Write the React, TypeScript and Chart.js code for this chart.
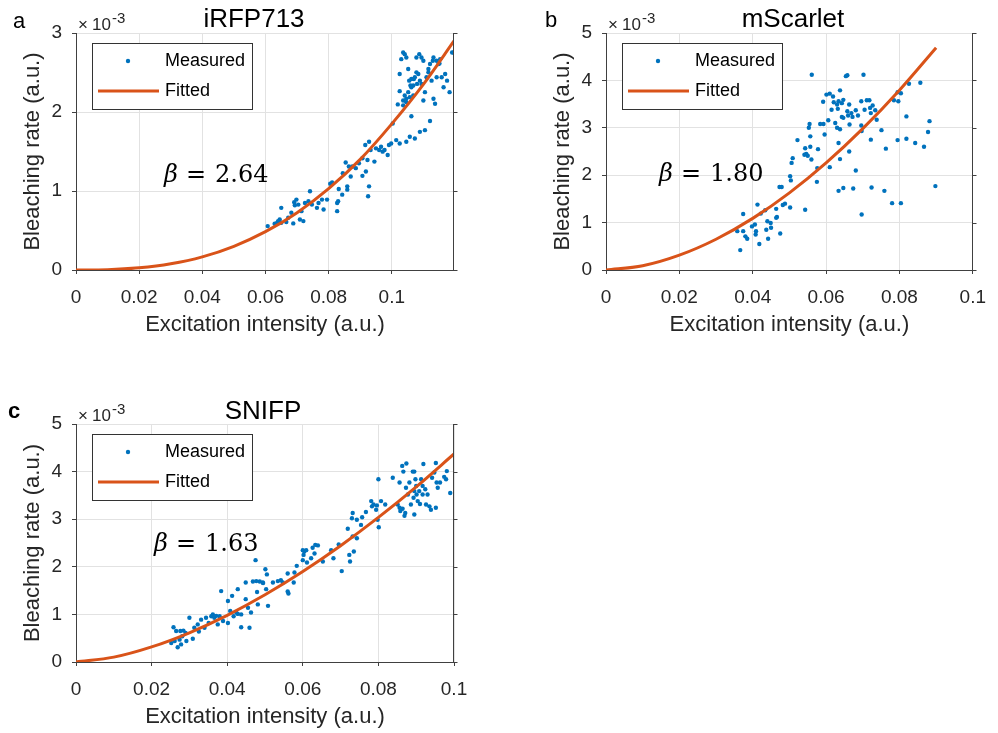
import React, { useEffect, useRef } from 'react';
import { Chart, registerables } from 'chart.js';

Chart.register(...registerables);

// ---------- Panel a: iRFP713 (y in units of 1e-3) ----------
const aMeasX = [
  0.0607, 0.0640, 0.0645, 0.0650, 0.0637, 0.0666, 0.0688, 0.0709, 0.0720, 0.0650,
  0.0691, 0.0698, 0.0693, 0.0704, 0.0714, 0.0736, 0.0741, 0.0747, 0.0763, 0.0779,
  0.0784, 0.0795, 0.0805, 0.0811, 0.0827, 0.0830, 0.0827, 0.0832, 0.0845, 0.0854,
  0.0859, 0.0859, 0.0870, 0.0875, 0.0886, 0.0907, 0.0907, 0.0918, 0.0923, 0.0928,
  0.0925, 0.0933, 0.0916, 0.0928, 0.0945, 0.0966, 0.0971, 0.0977, 0.0987, 0.0991,
  0.0998, 0.1003, 0.1014, 0.1025, 0.1046, 0.1057, 0.1073, 0.1089, 0.1105, 0.1121,
  0.1062, 0.1036, 0.1019, 0.1025, 0.1036, 0.1041, 0.1046, 0.1052, 0.1057, 0.1062,
  0.1068, 0.1070, 0.1078, 0.1084, 0.1089, 0.1094, 0.1100, 0.1105, 0.1110, 0.1116,
  0.1121, 0.1126, 0.1132, 0.1137, 0.1142, 0.1148, 0.1153, 0.1158, 0.1164, 0.1169,
  0.1175, 0.1183, 0.1191, 0.1196, 0.1025, 0.1036, 0.1041, 0.1046, 0.1052, 0.1030,
  0.1062, 0.1078, 0.1087, 0.1094, 0.1100, 0.1116, 0.1130, 0.1132, 0.1142, 0.1151,
  0.1073, 0.1080, 0.1055, 0.1059, 0.1068, 0.1046, 0.0629, 0.0672, 0.0682, 0.0725,
  0.0768, 0.0843, 0.0864, 0.0896, 0.0950, 0.0960,
];
const aMeasY = [
  0.556, 0.619, 0.640, 0.598, 0.598, 0.607, 0.590, 0.640, 0.619, 0.787,
  0.858, 0.891, 0.820, 0.828, 0.745, 0.870, 0.996, 0.828, 0.787, 0.891,
  0.766, 0.891, 1.092, 1.109, 0.849, 0.870, 0.745, 1.025, 1.226, 1.360,
  1.017, 1.059, 1.184, 1.310, 1.289, 1.414, 1.192, 1.247, 1.393, 1.059,
  0.933, 1.519, 1.582, 1.623, 1.372, 1.561, 1.498, 1.519, 1.456, 1.582,
  1.602, 1.854, 1.644, 1.602, 1.623, 1.686, 1.665, 1.749, 1.770, 1.887,
  1.946, 2.084, 2.096, 2.264, 2.146, 2.209, 2.125, 2.251, 2.188, 2.314,
  2.335, 2.418, 2.502, 2.481, 2.397, 2.356, 2.146, 2.251, 2.439, 2.544,
  2.607, 2.397, 2.167, 2.105, 2.439, 2.607, 2.669, 2.439, 2.314, 2.481,
  2.397, 2.251, 2.753, 2.753, 2.481, 2.753, 2.732, 2.690, 2.544, 2.669,
  2.418, 2.690, 2.732, 2.690, 2.649, 2.502, 2.649, 2.690, 2.649, 2.615,
  2.439, 2.356, 2.397, 2.335, 2.209, 2.167, 0.586, 0.661, 0.724, 0.849,
  0.849, 0.954, 1.310, 1.351, 1.540, 1.519,
];
const aFitX = [0, 0.01, 0.02, 0.03, 0.04, 0.05, 0.06, 0.07, 0.08, 0.09, 0.10, 0.11, 0.1197];
const aFitY = [0, 0.004, 0.027, 0.078, 0.166, 0.30, 0.485, 0.725, 1.03, 1.40, 1.85, 2.35, 2.90];
const aXTicks = [0, 0.02, 0.04, 0.06, 0.08, 0.1];
const aYTicks = [0, 1, 2, 3];

// ---------- Panel b: mScarlet ----------
const bMeasX = [
  0.0561, 0.0654, 0.0658, 0.0702, 0.0826, 0.0857, 0.0601, 0.0610, 0.0619, 0.0638,
  0.0592, 0.0621, 0.0630, 0.0634, 0.0643, 0.0647, 0.0663, 0.0615, 0.0632, 0.0658,
  0.0669, 0.0681, 0.0696, 0.0711, 0.0718, 0.0727, 0.0705, 0.0720, 0.0734, 0.0722,
  0.0738, 0.0643, 0.0647, 0.0660, 0.0672, 0.0687, 0.0664, 0.0696, 0.0606, 0.0625,
  0.0584, 0.0593, 0.0630, 0.0638, 0.0555, 0.0553, 0.0557, 0.0596, 0.0522, 0.0634,
  0.0543, 0.0546, 0.0557, 0.0541, 0.0550, 0.0560, 0.0578, 0.0509, 0.0506, 0.0576,
  0.0610, 0.0638, 0.0663, 0.0681, 0.0697, 0.0722, 0.0751, 0.0763, 0.0795, 0.0819,
  0.0819, 0.0843, 0.0867, 0.0878, 0.0882, 0.0785, 0.0797, 0.0795, 0.0804, 0.0898,
  0.0502, 0.0504, 0.0575, 0.0473, 0.0479, 0.0634, 0.0647, 0.0674, 0.0724, 0.0759,
  0.0780, 0.0804, 0.0697, 0.0543, 0.0502, 0.0488, 0.0482, 0.0464, 0.0466, 0.0413,
  0.0422, 0.0434, 0.0440, 0.0449, 0.0464, 0.0437, 0.0442, 0.0475, 0.0450, 0.0374,
  0.0398, 0.0406, 0.0409, 0.0408, 0.0418, 0.0380, 0.0385, 0.0374, 0.0358, 0.0366,
];
const bMeasY = [
  4.12, 4.09, 4.11, 4.12, 3.93, 3.95, 3.70, 3.72, 3.66, 3.79,
  3.55, 3.54, 3.49, 3.56, 3.52, 3.59, 3.49, 3.38, 3.40, 3.35,
  3.31, 3.37, 3.56, 3.58, 3.58, 3.47, 3.38, 3.42, 3.37, 3.31,
  3.17, 3.23, 3.21, 3.26, 3.23, 3.26, 3.07, 3.05, 3.16, 3.10,
  3.08, 3.08, 3.00, 2.97, 3.08, 3.00, 2.82, 2.86, 2.74, 2.68,
  2.57, 2.45, 2.60, 2.43, 2.41, 2.33, 2.55, 2.36, 2.26, 2.15,
  2.17, 2.34, 2.50, 2.10, 2.93, 2.75, 2.95, 2.56, 2.74, 2.77,
  3.24, 2.68, 2.60, 2.91, 3.14, 3.58, 3.56, 3.75, 3.73, 1.77,
  1.98, 1.89, 1.86, 1.75, 1.75, 1.67, 1.73, 1.72, 1.74, 1.67,
  1.41, 1.41, 1.17, 1.27, 1.32, 1.40, 1.37, 1.29, 1.12, 1.38,
  1.19, 1.26, 1.03, 0.99, 1.10, 0.85, 0.66, 0.77, 0.89, 1.18,
  0.92, 0.96, 0.82, 0.75, 0.55, 0.71, 0.66, 0.82, 0.82, 0.42,
];
const bFitX = [0, 0.01, 0.02, 0.03, 0.04, 0.05, 0.06, 0.07, 0.08, 0.09];
const bFitY = [0, 0.09, 0.313, 0.649, 1.089, 1.628, 2.26, 2.983, 3.794, 4.69];
const bXTicks = [0, 0.02, 0.04, 0.06, 0.08, 0.1];
const bYTicks = [0, 1, 2, 3, 4, 5];

// ---------- Panel c: SNIFP ----------
const cMeasX = [
  0.0252, 0.0261, 0.0258, 0.0265, 0.0269, 0.0274, 0.0276, 0.0281, 0.0284, 0.0290,
  0.0278, 0.0292, 0.0300, 0.0309, 0.0313, 0.0322, 0.0325, 0.0331, 0.0340, 0.0344,
  0.0351, 0.0358, 0.0362, 0.0366, 0.0371, 0.0375, 0.0380, 0.0384, 0.0389, 0.0402,
  0.0402, 0.0408, 0.0413, 0.0417, 0.0424, 0.0428, 0.0428, 0.0437, 0.0437, 0.0449,
  0.0449, 0.0455, 0.0459, 0.0463, 0.0468, 0.0475, 0.0477, 0.0479, 0.0481, 0.0486,
  0.0494, 0.0501, 0.0503, 0.0505, 0.0508, 0.0560, 0.0578, 0.0584, 0.0560, 0.0547,
  0.0534, 0.0521, 0.0576, 0.0600, 0.0604, 0.0609, 0.0602, 0.0600, 0.0611, 0.0622,
  0.0626, 0.0633, 0.0640, 0.0631, 0.0653, 0.0675, 0.0681, 0.0695, 0.0703, 0.0719,
  0.0723, 0.0725, 0.0732, 0.0735, 0.0743, 0.0730, 0.0732, 0.0743, 0.0754, 0.0757,
  0.0767, 0.0781, 0.0783, 0.0787, 0.0794, 0.0796, 0.0800, 0.0798, 0.0801, 0.0807,
  0.0818, 0.0838, 0.0851, 0.0856, 0.0858, 0.0864, 0.0869, 0.0871, 0.0856, 0.0863,
  0.0866, 0.0874, 0.0873, 0.0882, 0.0878, 0.0891, 0.0895, 0.0898, 0.0886, 0.0895,
  0.0900, 0.0904, 0.0910, 0.0919, 0.0913, 0.0917, 0.0924, 0.0930, 0.0935, 0.0939,
  0.0942, 0.0948, 0.0952, 0.0954, 0.0957, 0.0952, 0.0963, 0.0974, 0.0979, 0.0981,
  0.0990, 0.0908, 0.0917, 0.0895, 0.0926, 0.0893, 0.0901, 0.0495, 0.0542, 0.0562,
];
const cMeasY = [
  0.40, 0.44, 0.73, 0.65, 0.31, 0.47, 0.65, 0.54, 0.66, 0.61,
  0.37, 0.44, 0.93, 0.49, 0.72, 0.79, 0.64, 0.89, 0.72, 0.93,
  0.82, 0.96, 1.00, 0.93, 0.97, 0.79, 0.96, 1.49, 0.86, 0.82,
  1.28, 1.07, 1.39, 0.96, 1.04, 1.53, 1.01, 1.00, 0.73, 1.32,
  1.67, 1.14, 0.72, 1.04, 1.69, 2.14, 1.70, 1.47, 1.21, 1.69,
  1.67, 1.95, 1.53, 1.84, 1.18, 1.86, 1.88, 2.02, 1.48, 1.67,
  1.70, 1.67, 1.67, 2.35, 2.32, 2.35, 2.25, 2.14, 2.09, 2.18,
  2.40, 2.46, 2.45, 2.28, 2.11, 2.35, 2.18, 2.47, 1.91, 2.80,
  2.25, 2.11, 2.64, 2.32, 2.60, 3.02, 3.13, 2.99, 2.88, 3.04,
  3.15, 3.38, 3.27, 3.31, 3.20, 3.29, 3.84, 2.99, 2.83, 3.38,
  3.31, 3.87, 3.31, 3.24, 3.17, 3.22, 3.07, 3.13, 3.77, 4.12,
  4.00, 4.17, 3.66, 3.77, 3.52, 4.00, 4.00, 3.84, 3.31, 3.10,
  3.70, 3.38, 3.32, 4.16, 3.84, 3.70, 3.63, 3.52, 3.27, 3.20,
  3.87, 3.98, 4.18, 3.77, 3.66, 3.24, 3.77, 3.89, 3.84, 4.01,
  3.55, 3.59, 3.52, 3.59, 3.31, 3.45, 3.52, 1.66, 1.72, 1.44,
];
const cFitX = [0, 0.01, 0.02, 0.03, 0.04, 0.05, 0.06, 0.07, 0.08, 0.09, 0.1];
const cFitY = [0, 0.102, 0.317, 0.614, 0.981, 1.412, 1.901, 2.443, 3.037, 3.68, 4.37];
const cXTicks = [0, 0.02, 0.04, 0.06, 0.08, 0.1];
const cYTicks = [0, 1, 2, 3, 4, 5];

// ---------- styling ----------
const BLUE = '#0072BD';
const ORANGE = '#D95319';
const AXIS = '#404040';
const GRID = '#e2e2e2';
const TXT = '#262626';
const SANS = "'Liberation Sans', Arial, Helvetica, sans-serif";
const SERIF = "'DejaVu Serif', 'Liberation Serif', serif";

type Panel = {
  key: string;
  left: number; top: number; width: number; height: number;
  padTop: number; padRight: number; yAxisW: number; xAxisH: number;
  xMax: number; yMax: number;
  xTicks: number[]; yTicks: number[];
  measX: number[]; measY: number[]; fitX: number[]; fitY: number[];
  letter: string; letterBold: boolean; letterX: number; letterBase: number;
  title: string; titleX: number; titleBase: number;
  beta: string; betaX: number; betaBase: number;
};

const panels: Panel[] = [
  {
    key: 'a', left: 0, top: 0, width: 480, height: 345,
    padTop: 33, padRight: 26, yAxisW: 76, xAxisH: 75,
    xMax: 0.1197, yMax: 3, xTicks: aXTicks, yTicks: aYTicks,
    measX: aMeasX, measY: aMeasY, fitX: aFitX, fitY: aFitY,
    letter: 'a', letterBold: false, letterX: 13, letterBase: 28,
    title: 'iRFP713', titleX: 254, titleBase: 27,
    beta: '2.64', betaX: 164, betaBase: 182,
  },
  {
    key: 'b', left: 520, top: 0, width: 478, height: 345,
    padTop: 33, padRight: 14, yAxisW: 86, xAxisH: 75,
    xMax: 0.1, yMax: 5, xTicks: bXTicks, yTicks: bYTicks,
    measX: bMeasX, measY: bMeasY, fitX: bFitX, fitY: bFitY,
    letter: 'b', letterBold: false, letterX: 25, letterBase: 27,
    title: 'mScarlet', titleX: 273, titleBase: 27,
    beta: '1.80', betaX: 139, betaBase: 181,
  },
  {
    key: 'c', left: 0, top: 390, width: 480, height: 343,
    padTop: 34, padRight: 26, yAxisW: 76, xAxisH: 71,
    xMax: 0.1, yMax: 5, xTicks: cXTicks, yTicks: cYTicks,
    measX: cMeasX, measY: cMeasY, fitX: cFitX, fitY: cFitY,
    letter: 'c', letterBold: true, letterX: 8, letterBase: 28,
    title: 'SNIFP', titleX: 263, titleBase: 29,
    beta: '1.63', betaX: 154, betaBase: 161,
  },
];

function overlayPlugin(p: Panel) {
  return {
    id: 'overlay_' + p.key,
    afterDraw(chart: any) {
      const ctx: CanvasRenderingContext2D = chart.ctx;
      const a = chart.chartArea;
      const ys = chart.scales.y;
      ctx.save();

      // right box edge with outward ticks
      const rx = Math.round(a.right) - 0.5;
      ctx.strokeStyle = AXIS;
      ctx.lineWidth = 1;
      ctx.beginPath();
      ctx.moveTo(rx, a.top);
      ctx.lineTo(rx, a.bottom);
      for (const t of p.yTicks) {
        const py = Math.round(ys.getPixelForValue(t)) + 0.5;
        ctx.moveTo(rx, py);
        ctx.lineTo(rx + 4, py);
      }
      ctx.stroke();

      // legend box
      const L = Math.round(a.left) + 16, T = Math.round(a.top) + 10, W = 160, H = 66;
      ctx.fillStyle = '#ffffff';
      ctx.fillRect(L, T, W, H);
      ctx.strokeStyle = '#333333';
      ctx.lineWidth = 1;
      ctx.strokeRect(L + 0.5, T + 0.5, W, H);
      ctx.fillStyle = BLUE;
      ctx.beginPath();
      ctx.arc(L + 36, T + 18, 2.2, 0, Math.PI * 2);
      ctx.fill();
      ctx.strokeStyle = ORANGE;
      ctx.lineWidth = 3;
      ctx.beginPath();
      ctx.moveTo(L + 6, T + 48);
      ctx.lineTo(L + 67, T + 48);
      ctx.stroke();
      ctx.fillStyle = '#000000';
      ctx.font = `18px ${SANS}`;
      ctx.textAlign = 'left';
      ctx.textBaseline = 'middle';
      ctx.fillText('Measured', L + 73, T + 18);
      ctx.fillText('Fitted', L + 73, T + 48);

      // panel letter
      ctx.textBaseline = 'alphabetic';
      ctx.font = `${p.letterBold ? 'bold ' : ''}22px ${SANS}`;
      ctx.fillText(p.letter, p.letterX, p.letterBase);

      // title
      ctx.textAlign = 'center';
      ctx.font = `26px ${SANS}`;
      ctx.fillText(p.title, p.titleX, p.titleBase);

      // exponent
      ctx.textAlign = 'left';
      ctx.fillStyle = TXT;
      ctx.font = `17px ${SANS}`;
      ctx.fillText('\u00d7', a.left + 2, a.top - 3);
      ctx.fillText('10', a.left + 16, a.top - 3);
      ctx.font = `15px ${SANS}`;
      ctx.fillText('-3', a.left + 36, a.top - 10);

      // axis titles
      ctx.font = `22px ${SANS}`;
      ctx.textAlign = 'center';
      ctx.textBaseline = 'middle';
      ctx.fillText('Excitation intensity (a.u.)', (a.left + a.right) / 2, a.bottom + 55);
      ctx.save();
      ctx.translate(a.left - 43, (a.top + a.bottom) / 2);
      ctx.rotate(-Math.PI / 2);
      ctx.fillText('Bleaching rate (a.u.)', 0, 0);
      ctx.restore();

      // beta annotation
      ctx.fillStyle = '#000000';
      ctx.textAlign = 'left';
      ctx.textBaseline = 'alphabetic';
      ctx.font = `italic 24px ${SERIF}`;
      ctx.fillText('\u03b2', p.betaX, p.betaBase);
      ctx.font = `24px ${SERIF}`;
      ctx.fillText('=', p.betaX + 22, p.betaBase);
      ctx.fillText(p.beta, p.betaX + 51, p.betaBase);

      ctx.restore();
    },
  };
}

function makeConfig(p: Panel): any {
  const meas = p.measX.map((x, i) => ({ x, y: p.measY[i] }));
  const fit = p.fitX.map((x, i) => ({ x, y: p.fitY[i] }));
  return {
    type: 'scatter',
    data: {
      datasets: [
        {
          label: 'Fitted', data: fit, showLine: true, borderColor: ORANGE, borderWidth: 3,
          pointRadius: 0, pointHoverRadius: 0, cubicInterpolationMode: 'monotone', fill: false, order: 0,
        },
        {
          label: 'Measured', data: meas, showLine: false, pointRadius: 2.2, pointHoverRadius: 2.2,
          pointBackgroundColor: BLUE, pointBorderWidth: 0, borderColor: BLUE, order: 1,
        },
      ],
    },
    options: {
      animation: false,
      responsive: false,
      devicePixelRatio: 1,
      events: [],
      layout: { padding: { top: p.padTop, right: p.padRight, left: 0, bottom: 0 } },
      plugins: { legend: { display: false }, tooltip: { enabled: false }, title: { display: false } },
      scales: {
        x: {
          type: 'linear', min: 0, max: p.xMax,
          afterBuildTicks: (s: any) => { s.ticks = p.xTicks.map((v) => ({ value: v })); },
          afterFit: (s: any) => { s.height = p.xAxisH; },
          ticks: {
            includeBounds: false, maxRotation: 0, autoSkip: false, padding: 12, color: TXT,
            font: { family: SANS, size: 19 },
            callback: (v: number) => String(Number(Number(v).toFixed(2))),
          },
          grid: { color: GRID, tickColor: AXIS, tickLength: 4, drawTicks: true, lineWidth: 1 },
          border: { display: true, color: AXIS, width: 1 },
        },
        y: {
          type: 'linear', min: 0, max: p.yMax,
          afterBuildTicks: (s: any) => { s.ticks = p.yTicks.map((v) => ({ value: v })); },
          afterFit: (s: any) => { s.width = p.yAxisW; },
          ticks: {
            includeBounds: false, autoSkip: false, padding: 10, color: TXT,
            font: { family: SANS, size: 19 },
            callback: (v: number) => String(Math.round(Number(v))),
          },
          grid: { color: GRID, tickColor: AXIS, tickLength: 4, drawTicks: true, lineWidth: 1 },
          border: { display: true, color: AXIS, width: 1 },
        },
      },
    },
    plugins: [overlayPlugin(p)],
  };
}

function PanelChart({ p }: { p: Panel }) {
  const ref = useRef<HTMLCanvasElement | null>(null);
  useEffect(() => {
    if (!ref.current) return;
    const chart = new Chart(ref.current, makeConfig(p));
    return () => chart.destroy();
  }, [p]);
  return (
    <canvas
      ref={ref}
      width={p.width}
      height={p.height}
      style={{ position: 'absolute', left: p.left, top: p.top, width: p.width, height: p.height }}
    />
  );
}

export default function App() {
  return (
    <div style={{ position: 'absolute', left: 0, top: 0, width: 998, height: 733, background: '#ffffff', overflow: 'hidden' }}>
      {panels.map((p) => (
        <PanelChart key={p.key} p={p} />
      ))}
    </div>
  );
}
